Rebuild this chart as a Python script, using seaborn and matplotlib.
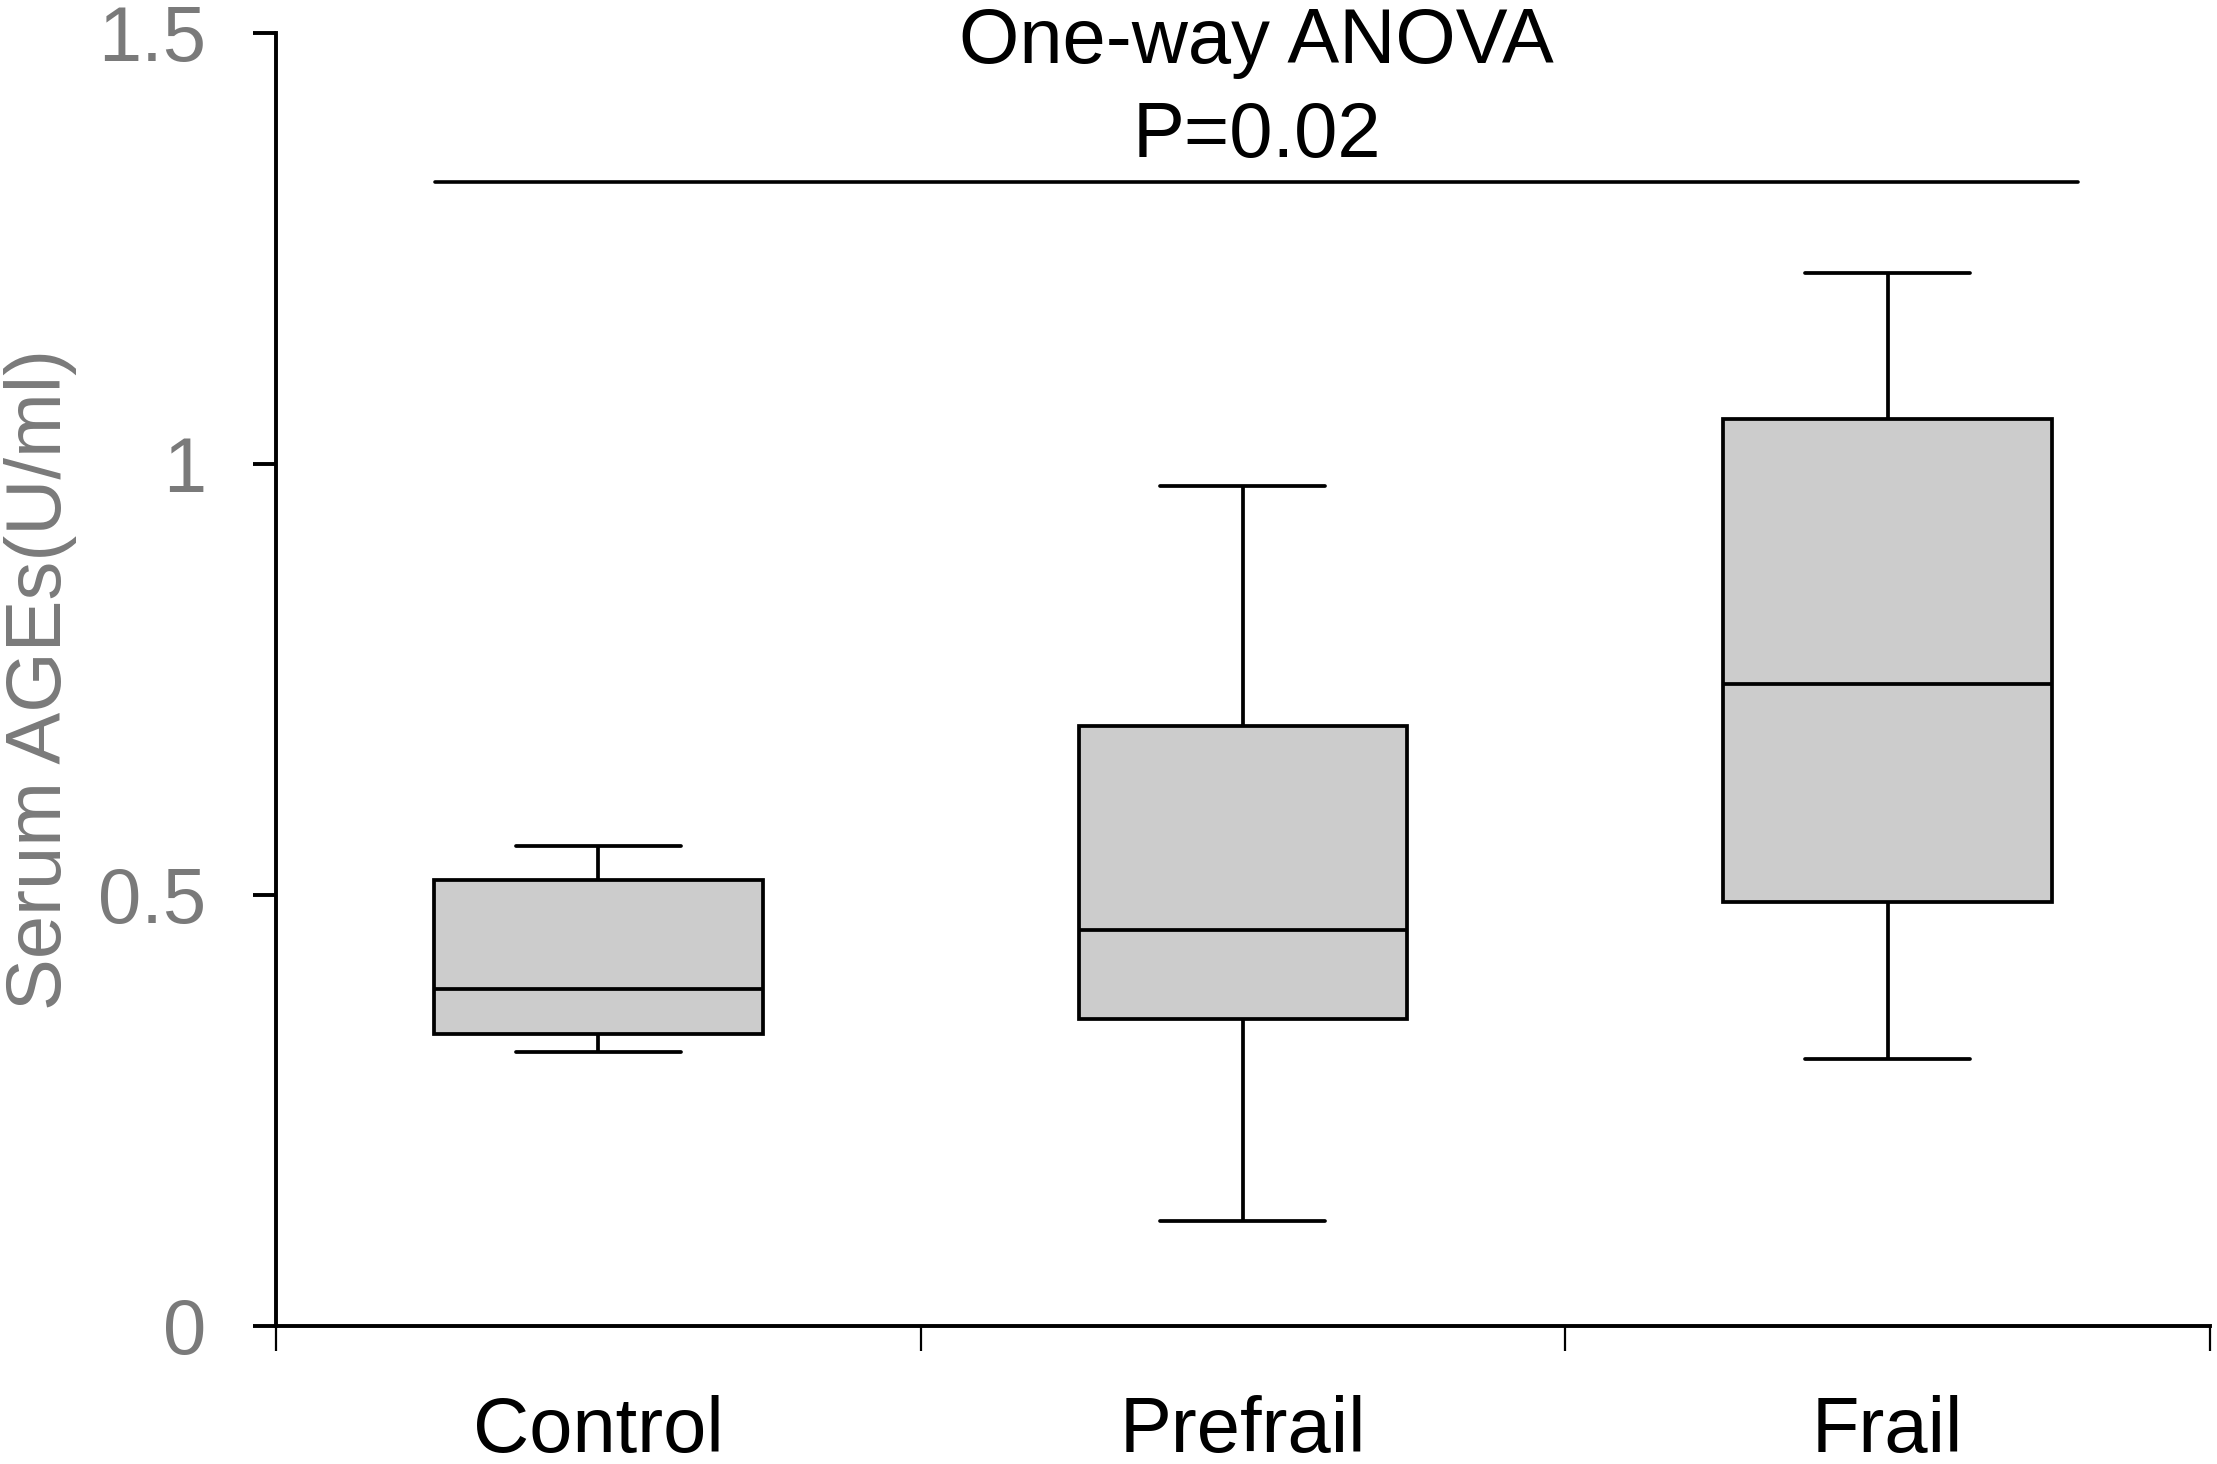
import matplotlib
matplotlib.use('Agg')
import matplotlib.pyplot as plt
import numpy as np
import pandas as pd
import seaborn as sns
from matplotlib.ticker import FixedLocator, FuncFormatter

# valores: minimo, Q1, mediana, Q3, maximo
GRUPOS = ['Control', 'Prefrail', 'Frail']
CONTROL = [0.318, 0.339, 0.391, 0.517, 0.557]
PREFRAIL = [0.122, 0.356, 0.459, 0.696, 0.974]
FRAIL = [0.310, 0.492, 0.745, 1.052, 1.221]
Y_TICKS = [0, 0.5, 1, 1.5]
TITULO = 'One-way ANOVA'
P_TEXTO = 'P=0.02'
Y_LABEL = 'Serum AGEs(U/ml)'

CINZA = '#7a7a7a'
FS = 56


def main():
    sns.set_theme(style='ticks')
    plt.rcParams['font.family'] = ['Liberation Sans', 'Noto Sans CJK SC', 'DejaVu Sans']

    df = pd.DataFrame({
        'grupo': np.repeat(GRUPOS, 5),
        'valor': CONTROL + PREFRAIL + FRAIL,
    })

    fig = plt.figure(figsize=(22.17, 14.64), dpi=100)
    ax = fig.add_axes([0.1245, 0.0943, 0.8723, 0.8832])

    sns.boxplot(
        data=df, x='grupo', y='valor', order=GRUPOS, ax=ax,
        whis=(0, 100), width=0.51, color='#cccccc', saturation=1,
        linecolor='black', linewidth=2.7,
    )

    # caps com metade da largura da caixa
    for cont in ax.containers:
        for cap in getattr(cont, 'caps', []):
            xs = np.asarray(cap.get_xdata(), dtype=float)
            c = xs.mean()
            cap.set_xdata([c - 0.128, c + 0.128])

    ax.set_xlim(-0.5, 2.5)
    ax.set_ylim(0, 1.5)
    sns.despine(ax=ax)
    for lado in ['left', 'bottom']:
        ax.spines[lado].set_linewidth(2.8)
        ax.spines[lado].set_color('black')

    ax.yaxis.set_major_locator(FixedLocator(Y_TICKS))
    ax.yaxis.set_major_formatter(FuncFormatter(lambda v, _: f'{v:g}'))
    ax.tick_params(axis='y', which='major', length=16.5, width=2.8, pad=34,
                   labelsize=FS, labelcolor=CINZA, color='black')

    ax.set_xticks(range(len(GRUPOS)))
    ax.set_xticklabels(GRUPOS)
    ax.set_xticks([-0.5, 0.5, 1.5, 2.5], minor=True)
    ax.tick_params(axis='x', which='major', length=0, pad=50, labelsize=FS, labelcolor='black')
    ax.tick_params(axis='x', which='minor', length=18, width=1.6, color='black')

    ax.set_xlabel('')
    ax.set_ylabel(Y_LABEL, fontsize=FS, color=CINZA)
    ax.yaxis.set_label_coords(-0.103, 0.5)

    # linha do ANOVA
    x_ini, x_fim = -0.253, 2.295
    ax.plot([x_ini, x_fim], [1.327, 1.327], color='black', lw=2.6, clip_on=False)
    x_meio = (x_ini + x_fim) / 2
    ax.text(x_meio, 1.465, TITULO, ha='center', va='baseline', fontsize=FS, color='black', clip_on=False)
    ax.text(x_meio, 1.356, P_TEXTO, ha='center', va='baseline', fontsize=FS, color='black', clip_on=False)

    fig.savefig('out.png', dpi=100)
    plt.close(fig)


if __name__ == '__main__':
    main()
